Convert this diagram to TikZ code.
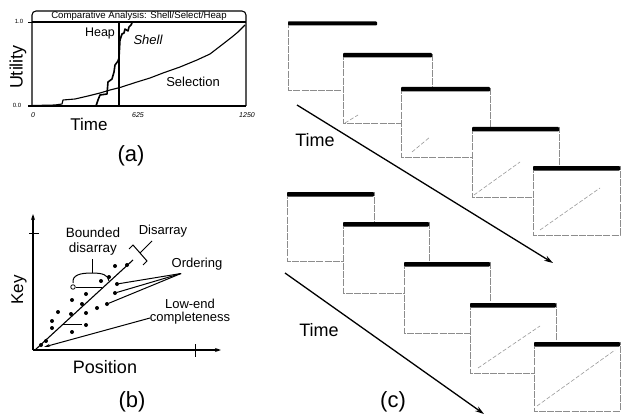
\documentclass[tikz,border=0pt]{standalone}
\usepackage{fontspec}
\setmainfont{Liberation Sans}
\usetikzlibrary{arrows.meta}
\begin{document}
\begin{tikzpicture}[x=1pt,y=-1pt,
  txt/.style={inner sep=0pt, font=\fontsize{13}{15}\selectfont},
  bigtxt/.style={inner sep=0pt, font=\fontsize{18}{21}\selectfont},
  captxt/.style={inner sep=0pt, font=\fontsize{22}{25}\selectfont},
  ticktxt/.style={inner sep=0pt, font=\fontsize{7}{8}\selectfont\itshape},
  frameline/.style={line width=1.1pt, line join=round},
  curve/.style={line width=1.6pt, line join=round},
  thincurve/.style={line width=1.1pt, line join=round},
  axis/.style={line width=1.1pt, -{Stealth[length=6pt,width=4pt]}},
  pointer/.style={line width=1pt},
  dot/.style={circle, fill=black, inner sep=0pt, minimum size=4pt},
  hdot/.style={circle, draw=black, fill=white, line width=0.8pt, inner sep=0pt, minimum size=4.5pt},
  winborder/.style={draw=black!45, line width=0.6pt, dash pattern=on 7pt off 1.2pt},
  winbar/.style={fill=black},
  windiag/.style={draw=black!40, line width=0.6pt, dash pattern=on 4pt off 2pt},
  timearrow/.style={line width=1.3pt, -{Stealth[length=9pt,width=5.5pt]}}
]
\useasboundingbox (0,0) rectangle (621,417);

% ---------------- panel (a) ----------------
\draw[frameline, rounded corners=4pt] (32,106) -- (32,11) -- (246,11) -- (246,106);
\draw[frameline] (32,22) -- (246,22);
\draw[frameline] (28,106) -- (246,106);
\draw[line width=0.8pt] (28,22) -- (32,22);
\node[inner sep=0pt, font=\fontsize{9.6}{11}\selectfont] (title) at (139,16.5) {Comparative Analysis: Shell/Select/Heap};
\node[inner sep=0pt, font=\fontsize{6}{7}\selectfont] (one) at (19,21) {1.0};
\node[inner sep=0pt, font=\fontsize{6}{7}\selectfont] (zero) at (17,105.5) {0.0};
\node[ticktxt] (t0) at (33,115) {0};
\node[ticktxt] (t625) at (138,115) {625};
\node[ticktxt] (t1250) at (247,115) {1250};
% selection curve
\draw[thincurve] (33,105.5) -- (55,105) -- (62,104) -- (63,100) -- (75,99) -- (88,96) -- (100,93)
  -- (110,90) -- (120,87.5) -- (137,82) -- (150,78) -- (163,73) -- (180,67) -- (197,60)
  -- (210,54) -- (223,44) -- (232,37) -- (238,32) -- (242,28) -- (245,25);
% heap / shell curve
\draw[curve] (33,106) -- (96,106) -- (98,100) -- (100,95) -- (107,94) -- (108,82) -- (112,79)
  -- (114,72) -- (115,65) -- (118,61) -- (119,58) -- (120,40) -- (122,34) -- (124,33)
  -- (125,29) -- (128,31) -- (129,27) -- (131,25) -- (132,23);
\draw[line width=1.8pt] (119,22) -- (119,106);
\node[txt, font=\fontsize{12.5}{15}\selectfont] (heap) at (100,33) {Heap};
\node[txt, font=\fontsize{13}{15}\selectfont\itshape] (shell) at (148,39.5) {Shell};
\node[txt] (selection) at (193,82) {Selection};
\node[bigtxt, rotate=90] (utility) at (18,67) {Utility};
\node[bigtxt, font=\fontsize{17}{20}\selectfont] (timea) at (89,124) {Time};
\node[captxt] (capa) at (131,156) {(a)};

% ---------------- panel (b) ----------------
\coordinate (O) at (33,350);
\coordinate (ytop) at (33,214);
\coordinate (xend) at (221,350);
\draw[axis] (O) -- (ytop);
\draw[axis] (O) -- (xend);
\draw[line width=0.8pt] (29,233) -- (39,233);
\draw[line width=0.8pt] (195,344) -- (195,357);
\coordinate (dstart) at (35,350);
\coordinate (dend) at (133,260);
\draw[line width=1.1pt] (dstart) -- (dend);
% dots
\foreach \px/\py [count=\i] in {115/266, 127/265, 109/277, 101/281, 86/294, 72/300, 82/304,
  58/312, 71/314, 97/308, 86/313, 52/321, 86/325, 72/332, 52/328, 41/345, 46/341}
  \node[dot] (d\i) at (\px,\py) {};
% bounded disarray
\node[hdot] (hc) at (73,287) {};
\coordinate (hcend) at (102,287);
\draw[pointer] (hc) -- (hcend);
\coordinate (lowa) at (63,324);
\coordinate (lowb) at (82,324);
\draw[pointer] (lowa) -- (lowb);
\coordinate (bra) at (73,283);
\coordinate (brtop) at (92,273);
\coordinate (brb) at (109,281);
\coordinate (brstem) at (92,259);
\draw[pointer] (bra) .. controls (72,275) and (80,273) .. (brtop) .. controls (103,273) and (108,275) .. (brb);
\draw[pointer] (brtop) -- (brstem);
\node[inner sep=0pt, align=center, font=\fontsize{13.5}{15}\selectfont] (bounded) at (93,242) {Bounded\\disarray};
% disarray bracket
\coordinate (dA) at (133,245);
\coordinate (dB) at (147,261);
\coordinate (dAt) at (129,249);
\coordinate (dBt) at (143,265);
\coordinate (dM) at (140,253);
\coordinate (dS) at (152,241);
\draw[pointer, line join=miter] (dAt) -- (dA) -- (dB) -- (dBt);
\draw[pointer] (dM) -- (dS);
\node[txt] (disarray2) at (163,231) {Disarray};
% ordering
\coordinate (ordapex) at (181,273.5);
\node[dot] (o1) at (117,284) {};
\node[dot] (o2) at (115,293) {};
\node[dot] (o3) at (107,304) {};
\draw[pointer] (ordapex) -- (o1);
\draw[pointer] (ordapex) -- (o2);
\draw[pointer] (ordapex) -- (o3);
\node[txt] (ordering) at (197,264) {Ordering};
% low-end completeness
\coordinate (lecstart) at (150,318);
\coordinate (lecend) at (44,347);
\draw[pointer, -{Stealth[length=6pt,width=3pt]}] (lecstart) -- (lecend);
\node[inner sep=0pt, align=center, font=\fontsize{13}{12.5}\selectfont] (lowend) at (190,311.5) {Low-end\\completeness};
\node[bigtxt, font=\fontsize{17}{20}\selectfont, rotate=90] (key) at (19,290) {Key};
\node[bigtxt] (position) at (105,367) {Position};
\node[captxt] (capb) at (132,402) {(b)};

% ---------------- panel (c) ----------------
% first window (no right border visible)
\fill[white] (288,21.5) rectangle (377,90);
\draw[winborder] (288,21.5) -- (288,90) -- (377,90);
\fill[winbar, rounded corners=1pt] (288,21.5) rectangle (377,25.5);
\foreach \xa/\ya/\xb/\yb in {343/53/432/123, 401/87/490/157, 472/127/559/197, 533/166/620/235,
  287/192/374/261, 343/222/429/293, 404/262/490/333, 470/303/556/373, 534/342/620/411} {
  \fill[white] (\xa,\ya) rectangle (\xb,\yb);
  \draw[winborder] (\xa,\ya) -- (\xa,\yb) -- (\xb,\yb) -- (\xb,\ya);
  \fill[winbar, rounded corners=1pt] (\xa,\ya) rectangle (\xb,\ya+4.5);
}
% sorted diagonals
\draw[windiag] (345,123) -- (358,115);
\draw[windiag] (412,152) -- (430,137);
\draw[windiag] (474,195) -- (520,162);
\draw[windiag] (540,230) -- (600,188);
\draw[windiag] (478,368) -- (540,326);
\draw[windiag] (537,406) -- (615,350);
% time arrows
\coordinate (ta1) at (297,105);
\coordinate (tb1) at (553,263);
\draw[timearrow] (ta1) -- (tb1);
\coordinate (ta2) at (285,273);
\coordinate (tb2) at (484,414);
\draw[timearrow] (ta2) -- (tb2);
\node[bigtxt] (timec1) at (315,140) {Time};
\node[bigtxt] (timec2) at (319,330) {Time};
\node[captxt] (capc) at (393,402) {(c)};
\end{tikzpicture}
\end{document}
